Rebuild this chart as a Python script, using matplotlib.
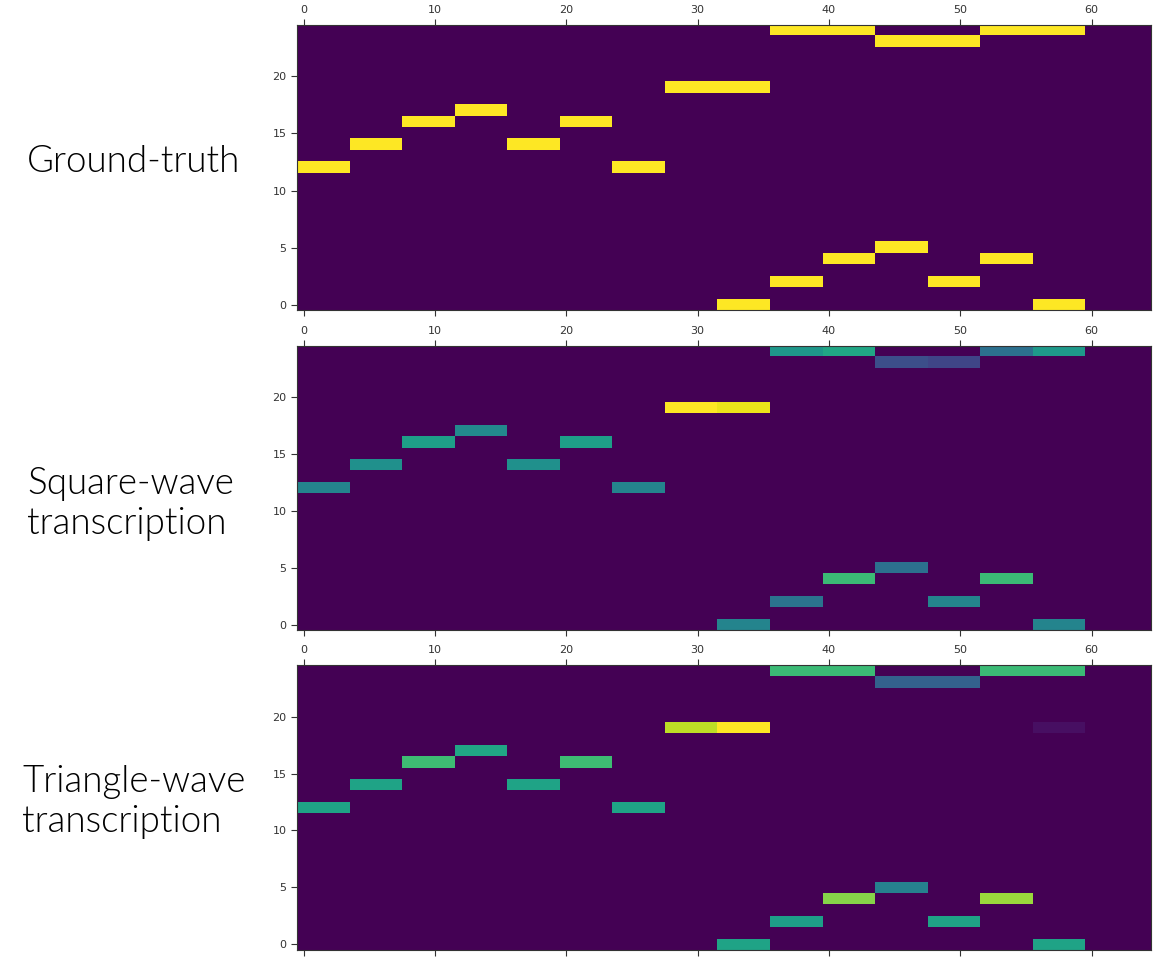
import numpy as np
import matplotlib
matplotlib.use("Agg")
import matplotlib.pyplot as plt

n_frames = 65
n_pitches = 25
note_len = 4

# note onsets (frame) and pitch index
onsets = [0, 4, 8, 12, 16, 20, 24, 28, 32,
          32, 36, 40, 44, 48, 52, 56,
          36, 40, 44, 48, 52, 56]
pitches = [12, 14, 16, 17, 14, 16, 12, 19, 19,
           0, 2, 4, 5, 2, 4, 0,
           24, 24, 23, 23, 24, 24]

truth_vals = [1.0] * len(onsets)
square_vals = [0.45, 0.50, 0.56, 0.47, 0.50, 0.56, 0.45, 1.00, 0.97,
               0.45, 0.38, 0.68, 0.37, 0.45, 0.68, 0.45,
               0.53, 0.59, 0.24, 0.21, 0.37, 0.54]
triangle_vals = [0.58, 0.58, 0.69, 0.59, 0.58, 0.69, 0.58, 0.90, 1.00,
                 0.58, 0.56, 0.82, 0.44, 0.58, 0.85, 0.58,
                 0.68, 0.68, 0.31, 0.31, 0.68, 0.68]
# faint extra note in the triangle-wave output
tri_extra_onset = 56
tri_extra_pitch = 19
tri_extra_val = 0.04

labels = ["Ground-truth", "Square-wave\ntranscription", "Triangle-wave\ntranscription"]


def piano_roll(vals, extra=None):
    roll = np.zeros((n_pitches, n_frames))
    for t, p, v in zip(onsets, pitches, vals):
        roll[p, t:t + note_len] = v
    if extra is not None:
        t, p, v = extra
        roll[p, t:t + note_len] = v
    return roll


rolls = [
    piano_roll(truth_vals),
    piano_roll(square_vals),
    piano_roll(triangle_vals, (tri_extra_onset, tri_extra_pitch, tri_extra_val)),
]

fig = plt.figure(figsize=(11.6, 9.61), dpi=100)

axes_pos = [
    [0.256, 0.677, 0.736, 0.297],
    [0.256, 0.344, 0.736, 0.296],
    [0.256, 0.0115, 0.736, 0.296],
]
label_pos = [(0.0233, 0.831), (0.0233, 0.4755), (0.019, 0.1655)]

for roll, pos, lab, lp in zip(rolls, axes_pos, labels, label_pos):
    ax = fig.add_axes(pos)
    ax.matshow(roll, cmap="viridis", aspect="auto", origin="lower",
               interpolation="nearest", vmin=0, vmax=roll.max())
    ax.set_xticks(np.arange(0, 61, 10))
    ax.set_yticks(np.arange(0, 21, 5))
    ax.tick_params(labelsize=8, length=4, width=0.8, colors="#333333")
    for s in ax.spines.values():
        s.set_color("#333333")
    fig.text(lp[0], lp[1], lab, fontsize=26.5, family=["Lato", "DejaVu Sans"],
             fontweight=300, color="black", ha="left", va="center", linespacing=1.2)

fig.savefig("out.png", dpi=100)
